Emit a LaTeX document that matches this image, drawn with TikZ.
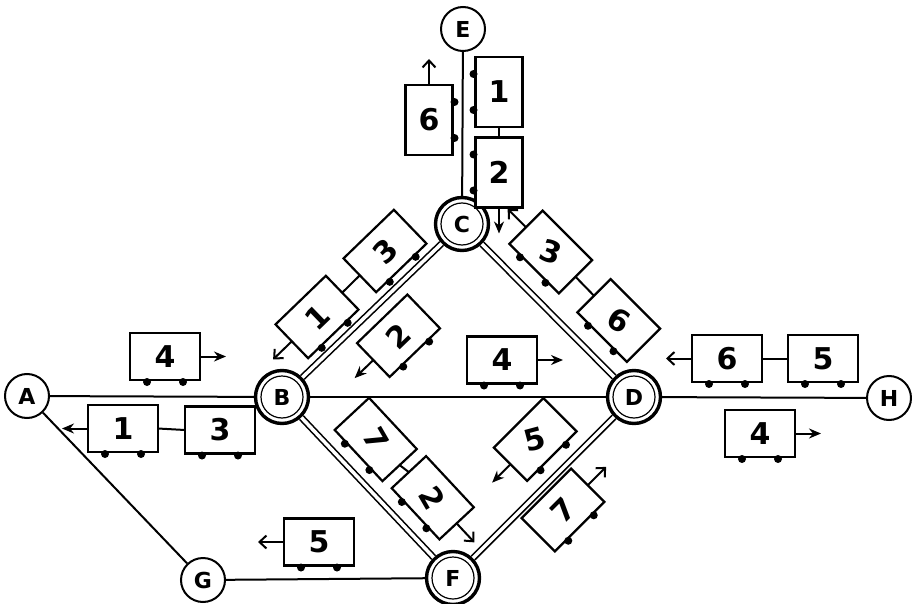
\documentclass[tikz,border=0pt]{standalone}
\usepackage{fontspec}
\setmainfont{DejaVu Sans}
\usetikzlibrary{arrows.meta,calc}
\tikzset{
  stn/.style={circle, draw, line width=2pt, minimum size=44pt, inner sep=0pt,
    font=\fontsize{22}{22}\selectfont\bfseries},
  hub/.style={circle, draw, line width=3.4pt, minimum size=53pt, inner sep=0pt,
    font=\fontsize{22}{22}\selectfont\bfseries},
  track/.style={line width=2pt},
  rails/.style={double, double distance=3.5pt, line width=1.6pt},
  wagonbox/.style={draw, fill=white, line width=2.2pt, minimum width=70pt,
    minimum height=47pt, inner sep=0pt},
  wlabel/.style={font=\fontsize{30}{30}\selectfont\bfseries, inner sep=0pt},
  arrF/.style={line width=2pt, -{Stealth[length=12pt,width=10pt]}},
  arrO/.style={line width=2pt, -{Straight Barb[length=7pt,width=13pt,line width=2pt]}},
  coupling/.style={line width=2pt}
}
% #1 name, #2 centre, #3 angle, #4 label, #5 label angle
\newcommand\wagon[5]{%
  \begin{scope}[shift={#2}, rotate=#3]
    \node[wagonbox, transform shape] (#1) at (0,0) {};
    \fill (-18,25.5) circle (4) (18,25.5) circle (4);
    \node[wlabel, rotate=#5] (#1-t) at (0,0) {#4};
    \coordinate (#1-l) at (-35,0);
    \coordinate (#1-r) at (35,0);
    \coordinate (#1-la) at (-61,0);
    \coordinate (#1-ra) at (61,0);
  \end{scope}}
\begin{document}
\begin{tikzpicture}[x=1pt, y=-1pt]
\useasboundingbox (0,0) rectangle (912,604);
% stations
\node[stn] (A) at (27,396) {A};
\node[hub] (B) at (282,397) {B};
\node[hub] (C) at (462,224) {C};
\node[hub] (D) at (634,397) {D};
\node[stn] (E) at (463,29) {E};
\node[hub] (F) at (453,578) {F};
\node[stn] (G) at (203,580) {G};
\node[stn] (H) at (889,398) {H};
\foreach \n in {B,C,D,F} \draw[line width=1.2pt] (\n) circle (21);
% tracks
\draw[track] (A) -- (B);
\draw[track] (B) -- (D);
\draw[track] (D) -- (H);
\draw[track] (A) -- (G);
\draw[track] (G) -- (F);
\draw[track] (E) -- (C);
\draw[rails] (B) -- (C);
\draw[rails] (C) -- (D);
\draw[rails] (B) -- (F);
\draw[rails] (F) -- (D);
% wagons on A-B
\wagon{wA4}{(165,356.5)}{0}{4}{0}
\draw[arrF] (wA4-r) -- (wA4-ra);
\wagon{wA1}{(123,428.5)}{0}{1}{0}
\wagon{wA3}{(220,430)}{0}{3}{0}
\draw[coupling] (wA1-r) -- (wA3-l);
\draw[arrF] (wA1-l) -- (wA1-la);
% B-D
\wagon{wBD4}{(502,360)}{0}{4}{0}
\draw[arrF] (wBD4-r) -- (wBD4-ra);
% D-H
\wagon{wDH6}{(727,358.5)}{0}{6}{0}
\wagon{wDH5}{(823,358.5)}{0}{5}{0}
\draw[coupling] (wDH6-r) -- (wDH5-l);
\draw[arrO] (wDH6-l) -- (wDH6-la);
\wagon{wH4}{(760,433.5)}{0}{4}{0}
\draw[arrF] (wH4-r) -- (wH4-ra);
% G-F
\wagon{wGF5}{(319,542)}{0}{5}{0}
\draw[arrO] (wGF5-l) -- (wGF5-la);
% E-C
\wagon{wE6}{(429,120)}{90}{6}{0}
\draw[arrO] (wE6-r) -- (wE6-ra);
\wagon{wE1}{(499,92)}{-90}{1}{0}
\wagon{wE2}{(499,172.5)}{-90}{2}{0}
\draw[coupling] (wE1-r) -- (wE2-l);
\draw[arrF] (wE2-r) -- (wE2-ra);
% B-C
\wagon{wBC3}{(385,251)}{44}{3}{44}
\wagon{wBC1}{(317,317)}{44}{1}{44}
\draw[coupling] (wBC1-r) -- (wBC3-l);
\draw[arrO] (wBC1-l) -- (wBC1-la);
\wagon{wBC2}{(398.5,335.75)}{44}{2}{44}
\draw[arrF] (wBC2-l) -- (wBC2-la);
% C-D
\wagon{wCD3}{(550.75,252)}{-45}{3}{-20}
\wagon{wCD6}{(618.75,320.5)}{-45}{6}{-30}
\draw[coupling] (wCD3-r) -- (wCD6-l);
\draw[arrO] (wCD3-l) -- (wCD3-la);
% B-F
\wagon{wBF7}{(375.75,439.5)}{-47}{7}{-60}
\wagon{wBF2}{(432.75,497.75)}{-47}{2}{-60}
\draw[coupling] (wBF7-r) -- (wBF2-l);
\draw[arrO] (wBF2-r) -- (wBF2-ra);
% F-D
\wagon{wFD5}{(535.25,439.5)}{45}{5}{15}
\draw[arrF] (wFD5-l) -- (wFD5-la);
\wagon{wFD7}{(563,510)}{45}{7}{45}
\draw[arrO] (wFD7-r) -- (wFD7-ra);
\end{tikzpicture}
\end{document}
